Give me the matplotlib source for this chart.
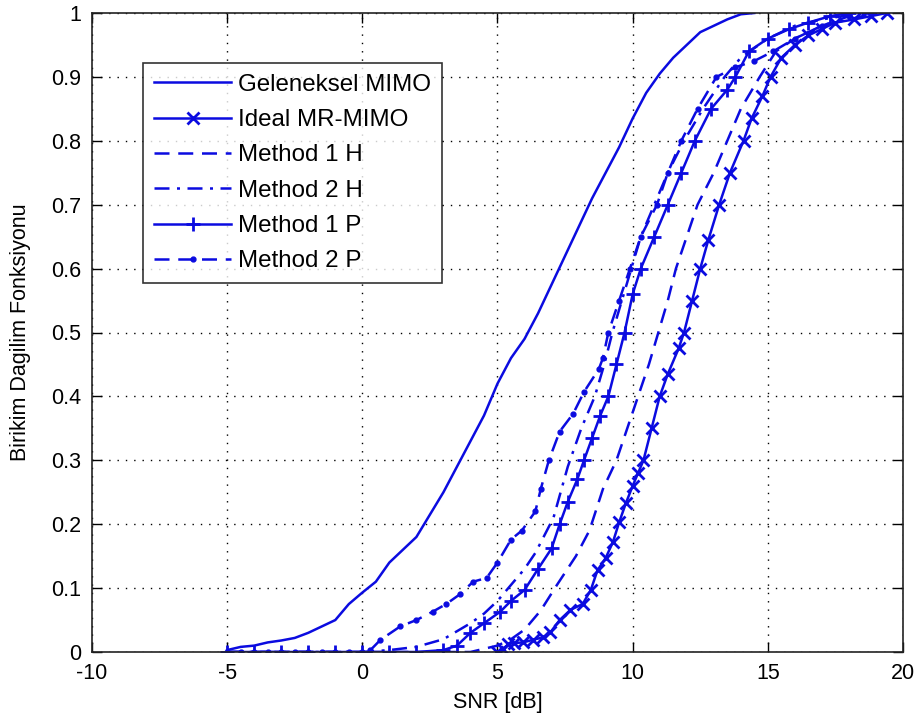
import matplotlib
matplotlib.use("Agg")
import matplotlib.pyplot as plt
import numpy as np

# ---- data ----
gel_x = [-5, -4.5, -4, -3.5, -3, -2.5, -2, -1.5, -1, -0.5, 0, 0.5, 1, 1.5, 2, 2.5, 3, 3.5, 4, 4.5,
         5, 5.5, 6, 6.5, 7, 7.5, 8, 8.5, 9, 9.5, 10, 10.5, 11, 11.5, 12, 12.5, 13, 13.5, 14, 14.5]
gel_y = [0.003, 0.008, 0.01, 0.015, 0.018, 0.022, 0.03, 0.04, 0.05, 0.075, 0.093, 0.11, 0.14, 0.16, 0.18,
         0.215, 0.25, 0.29, 0.33, 0.37, 0.42, 0.46, 0.49, 0.53, 0.575, 0.62, 0.665, 0.71, 0.75, 0.79,
         0.835, 0.875, 0.905, 0.93, 0.95, 0.97, 0.98, 0.99, 0.998, 1.0]

ideal_x = [5.0, 5.2, 5.4, 5.6, 5.95, 6.3, 6.7, 6.96, 7.3, 7.7, 8.15, 8.45, 8.7, 9.0, 9.27, 9.5, 9.75,
           10.0, 10.2, 10.4, 10.7, 11.0, 11.3, 11.7, 11.9, 12.2, 12.5, 12.8, 13.2, 13.6, 14.1, 14.4,
           14.8, 15.1, 15.5, 16.0, 16.5, 17.0, 17.5, 18.2, 18.8, 19.4]
ideal_y = [0.0, 0.005, 0.012, 0.014, 0.015, 0.019, 0.023, 0.031, 0.05, 0.066, 0.075, 0.097, 0.128,
           0.147, 0.172, 0.203, 0.233, 0.26, 0.28, 0.3, 0.35, 0.4, 0.435, 0.475, 0.5, 0.55, 0.6, 0.645,
           0.7, 0.75, 0.8, 0.835, 0.87, 0.9, 0.93, 0.95, 0.965, 0.975, 0.985, 0.99, 0.995, 1.0]

m1h_x = [-5, -4, -3, -2, -1, 0, 1, 2, 3, 4, 4.5, 5, 5.5, 6, 6.6, 7.2, 7.9, 8.4, 8.9, 9.4, 9.8, 10.2,
         10.6, 10.95, 11.3, 11.6, 12.0, 12.4, 13.0, 13.5, 14.0, 14.7, 15.3, 16.0, 17.0, 18.0, 19.0]
m1h_y = [0, 0, 0, 0, 0, 0, 0, 0, 0, 0, 0.005, 0.01, 0.02, 0.035, 0.065, 0.105, 0.15, 0.19, 0.255, 0.3,
         0.35, 0.4, 0.45, 0.5, 0.55, 0.6, 0.65, 0.7, 0.75, 0.8, 0.85, 0.9, 0.94, 0.96, 0.98, 0.99, 1.0]

m2h_x = [-5, -4, -3, -2, -1, 0, 1, 2, 3, 4, 4.5, 5.0, 5.5, 6.0, 6.4, 7.07, 7.6, 8.1, 8.6, 8.95, 9.25,
         9.6, 9.95, 10.3, 10.8, 11.3, 11.9, 12.6, 13.4, 14.0, 15.0, 16.0, 17.0, 18.5]
m2h_y = [0, 0, 0, 0, 0, 0, 0.003, 0.008, 0.02, 0.045, 0.06, 0.08, 0.105, 0.13, 0.155, 0.21, 0.29, 0.35,
         0.4, 0.45, 0.5, 0.55, 0.6, 0.65, 0.7, 0.75, 0.8, 0.85, 0.9, 0.93, 0.96, 0.98, 0.99, 1.0]

m1p_x = [-5, -4, -3, -2, -1, 0, 1, 2, 3, 3.5, 4.0, 4.5, 5.1, 5.5, 6.0, 6.5, 7.0, 7.3, 7.6, 7.95, 8.2,
         8.5, 8.8, 9.1, 9.4, 9.7, 10.0, 10.3, 10.8, 11.3, 11.8, 12.3, 12.9, 13.5, 13.8, 14.3, 15.0,
         15.8, 16.5, 17.3, 18.0]
m1p_y = [0, 0, 0, 0, 0, 0, 0, 0, 0.003, 0.01, 0.03, 0.045, 0.063, 0.08, 0.097, 0.13, 0.162, 0.2, 0.235,
         0.27, 0.3, 0.335, 0.37, 0.4, 0.45, 0.5, 0.56, 0.6, 0.65, 0.7, 0.75, 0.8, 0.85, 0.88, 0.9, 0.94,
         0.96, 0.975, 0.985, 0.995, 1.0]

m2p_x = [-5, -4.5, -4, -3.5, -3, -2.5, -2, -1.5, -1, -0.5, 0, 0.3, 0.67, 1.4, 2.0, 2.6, 3.1, 3.6, 4.1,
         4.6, 5.0, 5.5, 5.9, 6.4, 6.6, 6.9, 7.3, 7.8, 8.2, 8.75, 8.9, 9.1, 9.5, 9.9, 10.3, 10.9, 11.3,
         11.8, 12.4, 13.1, 13.8, 14.5, 15.2, 16.0, 17.0, 18.0, 18.8]
m2p_y = [0, 0, 0, 0, 0, 0, 0, 0, 0, 0, 0, 0.003, 0.019, 0.04, 0.05, 0.063, 0.075, 0.09, 0.11, 0.116,
         0.14, 0.176, 0.19, 0.22, 0.255, 0.3, 0.345, 0.373, 0.407, 0.443, 0.46, 0.5, 0.55, 0.6, 0.65,
         0.7, 0.75, 0.8, 0.85, 0.9, 0.915, 0.925, 0.94, 0.96, 0.98, 0.995, 1.0]

labels = ["Geleneksel MIMO", "Ideal MR-MIMO", "Method 1 H", "Method 2 H", "Method 1 P", "Method 2 P"]
x_ticks = [-10, -5, 0, 5, 10, 15, 20]
y_ticks = [0, 0.1, 0.2, 0.3, 0.4, 0.5, 0.6, 0.7, 0.8, 0.9, 1]
y_ticklabels = ["0", "0.1", "0.2", "0.3", "0.4", "0.5", "0.6", "0.7", "0.8", "0.9", "1"]

plt.rcParams['font.family'] = ['Liberation Sans', 'DejaVu Sans']
blue = '#0b0be0'

fig = plt.figure(figsize=(9.2, 7.24), dpi=100)
ax = fig.add_axes([92/920, 1-652/724, (903-92)/920, (652-13)/724])

lw = 1.8
ax.plot(gel_x, gel_y, color=blue, lw=lw, ls='-', label=labels[0])
ax.plot(ideal_x, ideal_y, color=blue, lw=lw, ls='-', marker='x', ms=8, mew=2, label=labels[1])
ax.plot(m1h_x, m1h_y, color=blue, lw=lw, dashes=(6, 3.5), label=labels[2])
ax.plot(m2h_x, m2h_y, color=blue, lw=lw, dashes=(6, 3, 1.2, 3), label=labels[3])
ax.plot(m1p_x, m1p_y, color=blue, lw=lw, ls='-', marker='+', ms=10, mew=2, label=labels[4])
ax.plot(m2p_x, m2p_y, color=blue, lw=lw, dashes=(6, 3.5), marker='.', ms=7, label=labels[5])

ax.set_xlim(-10, 20)
ax.set_ylim(0, 1)
ax.set_xticks(x_ticks)
ax.set_xticklabels([str(t) for t in x_ticks])
ax.set_yticks(y_ticks)
ax.set_yticklabels(y_ticklabels)
ax.grid(True, color='black', ls=(0, (1, 5)), lw=1.0)
ax.tick_params(direction='in', length=7, width=1, top=True, right=True, labelsize=15.5, pad=8)
for s in ax.spines.values():
    s.set_linewidth(1.2)
    s.set_color('#222222')

ax.set_xlabel("SNR [dB]", fontsize=15.5, labelpad=6)
ax.set_ylabel("Birikim Dagilim Fonksiyonu", fontsize=15.5, labelpad=14)

leg = ax.legend(loc='upper left', bbox_to_anchor=((143-92)/811, 1-(63-13)/639), frameon=True,
                fancybox=False, fontsize=17.4, handlelength=3.2, handletextpad=0.3,
                labelspacing=0.55, borderpad=0.45, borderaxespad=0, numpoints=1)
leg.get_frame().set_edgecolor('black')
leg.get_frame().set_linewidth(1.2)

fig.savefig("out.png", dpi=100, facecolor='white')
